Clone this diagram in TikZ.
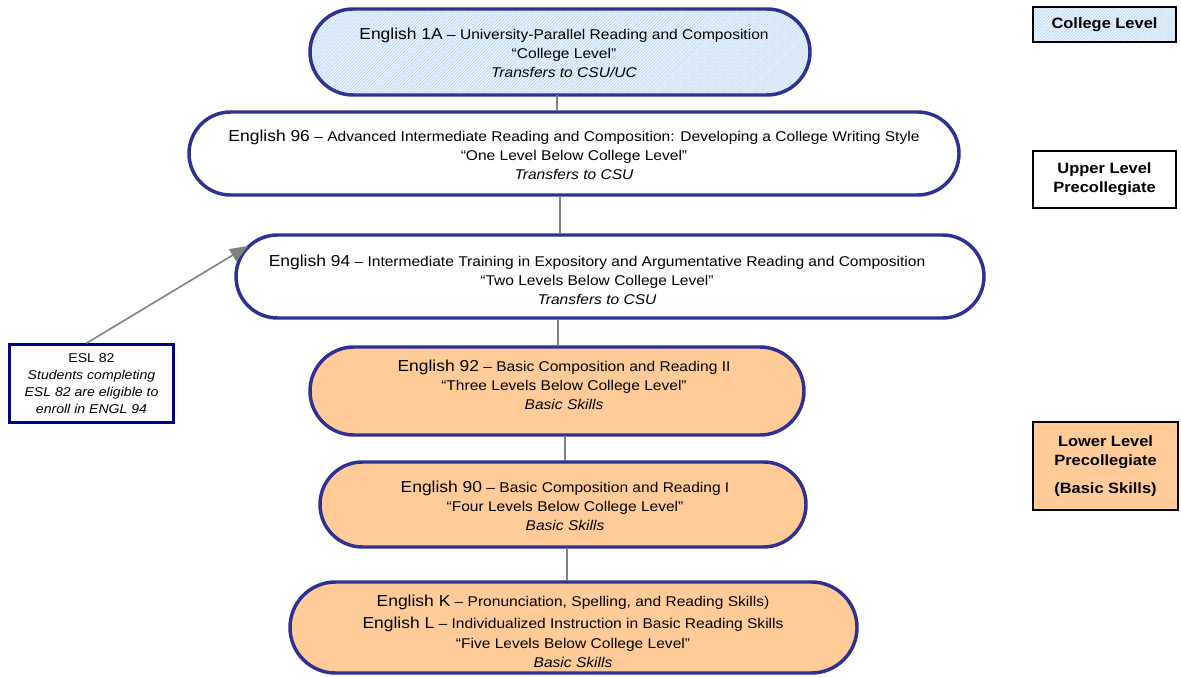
\documentclass[tikz,border=0pt]{standalone}
\usepackage{fontspec}
\setmainfont{Liberation Sans}[FakeStretch=1.1]
\usetikzlibrary{shapes.misc,arrows.meta,patterns.meta,calc}

\definecolor{pillblue}{RGB}{46,49,146}
\definecolor{peach}{RGB}{255,204,153}
\definecolor{eslnavy}{RGB}{0,0,128}
\definecolor{conngray}{RGB}{128,128,128}
\definecolor{hatchbg}{RGB}{238,246,253}
\definecolor{hatchln}{RGB}{178,212,245}

\newcommand\subf{\fontsize{10.6pt}{14.25pt}\selectfont}
\newcommand\ttlf{\fontsize{11.9pt}{14.25pt}\selectfont}
\newcommand\tagf{\fontsize{11.2pt}{14.25pt}\selectfont\bfseries}
\newcommand\eslf{\fontsize{9.6pt}{12.75pt}\selectfont}
\def\px{0.75pt}

\tikzset{
  pill/.style={rounded rectangle, draw=pillblue, line width=2.6pt, inner sep=0pt, fill=white},
  basic/.style={pill, fill=peach},
  hatched/.style={preaction={fill=hatchbg},
    pattern={Lines[angle=45,distance=1.7pt,line width=0.5pt]}, pattern color=hatchln},
  txt/.style={align=center, font=\subf, inner sep=0pt},
  conn/.style={draw=conngray, line width=1.2pt},
  tag/.style={draw=black, line width=2.2pt, font=\tagf, align=center, inner sep=0pt},
  eslbox/.style={draw=eslnavy, line width=2pt, fill=white, font=\eslf, align=center, inner sep=0pt},
}

\begin{document}
\begin{tikzpicture}[x=0.75pt,y=-0.75pt]
\useasboundingbox[fill=white] (0,0) rectangle (1181,677);

% course pills
\node[pill, hatched, minimum width=500*\px, minimum height=86*\px] (p1a) at (560,52) {};
\node[pill, minimum width=770*\px, minimum height=83*\px] (p96) at (574,153.5) {};
\node[pill, minimum width=748*\px, minimum height=83*\px] (p94) at (610,276.5) {};
\node[basic, minimum width=494*\px, minimum height=88*\px] (p92) at (557,391) {};
\node[basic, minimum width=486*\px, minimum height=85*\px] (p90) at (563,504.5) {};
\node[basic, minimum width=567*\px, minimum height=91*\px] (pkl) at (573.5,627.5) {};

% course descriptions
\node[txt] (t1a) at (564,53) {{\ttlf English 1A} – University-Parallel Reading and Composition\\
  “College Level”\\ \textit{Transfers to CSU/UC}};
\node[txt] (t96) at (574,155) {{\ttlf English 96} – Advanced Intermediate Reading and Composition: Developing a College Writing Style\\
  “One Level Below College Level”\\ \textit{Transfers to CSU}};
\node[txt] (t94) at (597,280) {{\ttlf English 94} – Intermediate Training in Expository and Argumentative Reading and Composition\\
  “Two Levels Below College Level”\\ \textit{Transfers to CSU}};
\node[txt] (t92) at (564,385) {{\ttlf English 92} – Basic Composition and Reading II\\
  “Three Levels Below College Level”\\ \textit{Basic Skills}};
\node[txt] (t90) at (565,506) {{\ttlf English 90} – Basic Composition and Reading I\\
  “Four Levels Below College Level”\\ \textit{Basic Skills}};
\node[txt] (tkl) at (573,631) {{\ttlf English K} – Pronunciation, Spelling, and Reading Skills)\\[2.5pt]
  {\ttlf English L} – Individualized Instruction in Basic Reading Skills\\[0.75pt]
  “Five Levels Below College Level”\\ \textit{Basic Skills}};

% sequence connectors
\coordinate (c1) at ($(p1a.south)+(-3,0)$);
\coordinate (c2) at ($(p96.south)+(-14,0)$);
\coordinate (c3) at ($(p94.south)+(-52,0)$);
\coordinate (c4) at ($(p92.south)+(8,0)$);
\coordinate (c5) at ($(p90.south)+(4,0)$);
\draw[conn] (c1) -- (c1 |- p96.north);
\draw[conn] (c2) -- (c2 |- p94.north);
\draw[conn] (c3) -- (c3 |- p92.north);
\draw[conn] (c4) -- (c4 |- p90.north);
\draw[conn] (c5) -- (c5 |- pkl.north);

% ESL entry point
\node[eslbox, minimum width=164*\px, minimum height=78*\px] (esl) at (91.5,383.5)
  {ESL 82\\ \textit{Students completing}\\ \textit{ESL 82 are eligible to}\\ \textit{enroll in ENGL 94}};
\coordinate (eslfoot) at ($(esl.north)+(-5,0)$);
\coordinate (esltip) at (248,246);
\draw[conn, -{Triangle[length=13.5pt,width=10.5pt]}, fill=conngray] (eslfoot) -- (esltip);

% level tags
\node[tag, hatched, minimum width=143*\px, minimum height=35*\px] (lvcol) at (1104.5,24.5) {College Level};
\node[tag, fill=white, minimum width=143*\px, minimum height=57*\px] (lvup) at (1104.5,179.5) {Upper Level\\ Precollegiate};
\node[tag, fill=peach, minimum width=145*\px, minimum height=88*\px] (lvlow) at (1105.5,466) {Lower Level\\ Precollegiate\\[6.5pt] (Basic Skills)};
\end{tikzpicture}
\end{document}
